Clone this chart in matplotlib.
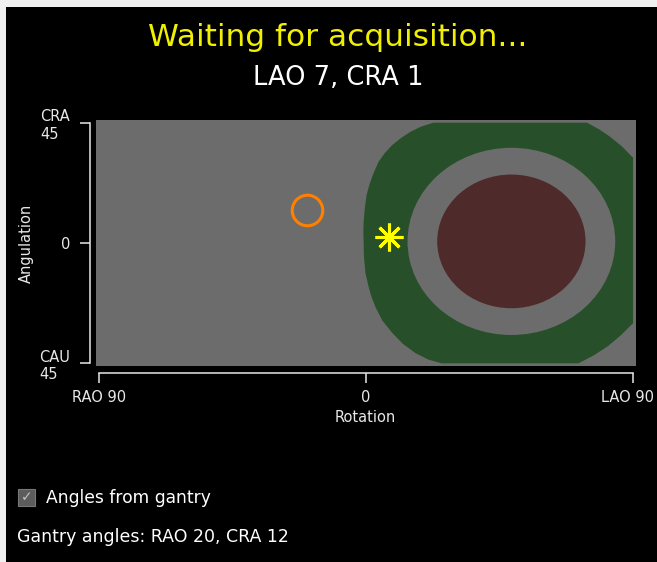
import numpy as np
import matplotlib
matplotlib.use("Agg")
import matplotlib.pyplot as plt
import matplotlib.transforms as mtransforms
from matplotlib.patches import Polygon, Circle, Rectangle

# axis ticks / labels
rotation_ticks = [-90, 0, 90]
rotation_labels = ["RAO 90", "0", "LAO 90"]
angulation_ticks = [-45, 0, 45]
angulation_labels = ["CAU\n45", "0", "CRA\n45"]

# outer (green) zone outline (rotation, angulation)
green_rot = [22.7, 74.5, 78.6, 82.3, 86.2, 89.7, 90.0, 90.0, 85.8, 81.5, 76.8,
             71.6, 25.5, 21.0, 16.7, 12.5, 8.9, 5.5, 3.2, 1.8, 0.8, -0.2, -0.7,
             -0.8, -0.9, -0.8, -0.4, 0.2, 1.2, 2.5, 4.2, 6.3, 8.8, 11.7, 15.0,
             18.5]
green_ang = [45.0, 45.0, 42.5, 39.7, 36.2, 32.2, 32.0, -30.0, -34.6, -38.6,
             -42.0, -45.0, -45.0, -43.6, -41.2, -37.8, -33.7, -29.0, -24.0,
             -20.0, -16.0, -11.2, -5.0, 0.5, 4.0, 7.9, 13.0, 18.0, 22.0, 26.0,
             30.3, 33.6, 36.6, 39.2, 41.6, 43.5]

# inner zones: circles around the optimal view
target_rot = 49.0
target_ang = 0.6
gap_radius = 35.0
target_radius = 25.0

# current position (star) and gantry position (circle)
current_rot, current_ang = 7.6, 2.2
gantry_rot, gantry_ang = -20.0, 12.3

title = "Waiting for acquisition..."
subtitle = "LAO 7, CRA 1"
gantry_text = "Gantry angles: RAO 20, CRA 12"

BG = "#6c6c6c"
GREEN = "#27502a"
RED = "#4f2a2b"
FG = "#e8e8e8"

plt.rcParams["font.family"] = ["DejaVu Sans"]

W, H = 657, 562
fig = plt.figure(figsize=(W / 100, H / 100), dpi=100, facecolor="black")

# window border (top / left)
fig.add_artist(Rectangle((0, 1 - 7 / H), 1, 7 / H, transform=fig.transFigure,
                         facecolor="#f0f0f0", edgecolor="none"))
fig.add_artist(Rectangle((0, 0), 6 / W, 1, transform=fig.transFigure,
                         facecolor="#f0f0f0", edgecolor="none"))

ax = fig.add_axes([96 / W, (H - 366) / H, 540 / W, 246 / H])
ax.set_facecolor(BG)
ax.set_xlim(-91, 91)
ax.set_ylim(-46, 46)

ax.add_patch(Polygon(np.column_stack([green_rot, green_ang]), closed=True,
                     facecolor=GREEN, edgecolor="none", zorder=1))
ax.add_patch(Circle((target_rot, target_ang), gap_radius, facecolor=BG,
                    edgecolor="none", zorder=2))
ax.add_patch(Circle((target_rot, target_ang), target_radius, facecolor=RED,
                    edgecolor="none", zorder=3))

ax.plot(gantry_rot, gantry_ang, marker="o", ms=22, mfc="none", mec="#ff8000",
        mew=2.2, zorder=5)
ax.plot(current_rot, current_ang, marker=(8, 2, 0), ms=20, mec="#ffff00",
        mew=2.2, zorder=6)

for s in ["top", "right"]:
    ax.spines[s].set_visible(False)
ax.spines["left"].set_position(("outward", 4.5))
ax.spines["bottom"].set_position(("outward", 5))
ax.spines["left"].set_bounds(-45, 45)
ax.spines["bottom"].set_bounds(-90, 90)
for s in ["left", "bottom"]:
    ax.spines[s].set_color(FG)
    ax.spines[s].set_linewidth(1.1)

ax.set_xticks(rotation_ticks)
ax.set_xticklabels(rotation_labels)
ax.set_yticks(angulation_ticks)
ax.set_yticklabels(angulation_labels)
for t in ax.get_yticklabels():
    t.set_multialignment("left")
ax.tick_params(colors=FG, labelcolor=FG, labelsize=10.5, length=7, width=1.1,
               direction="out")
ax.tick_params(axis="y", pad=7)
ax.tick_params(axis="x", pad=5)

# keep "LAO 90" inside the window
lao = ax.get_xticklabels()[-1]
lao.set_transform(lao.get_transform() +
                  mtransforms.ScaledTranslation(-4 / 72, 0, fig.dpi_scale_trans))

ax.set_xlabel("Rotation", color=FG, fontsize=10.5)
ax.xaxis.set_label_coords(0.499, -0.211)
ax.xaxis.label.set_va("center")
ax.set_ylabel("Angulation", color=FG, fontsize=10.5)
ax.yaxis.set_label_coords(-0.128, 0.5)
ax.yaxis.label.set_va("center")

fig.text(338 / W, 1 - 38 / H, title, color="#f0f000", fontsize=22.5,
         ha="center", va="center")
fig.text(338 / W, 1 - 78 / H, subtitle, color="white", fontsize=18.5,
         ha="center", va="center")

# checkbox
fig.add_artist(Rectangle((18 / W, 1 - 506 / H), 17 / W, 17 / H,
                         transform=fig.transFigure, facecolor="#5c5c5c",
                         edgecolor="#777777", lw=0.8))
fig.text(26.5 / W, 1 - 497.5 / H, "\u2713", color="#c0c0c0", fontsize=10,
         ha="center", va="center", fontweight="bold")
fig.text(46 / W, 1 - 498 / H, "Angles from gantry", color="white",
         fontsize=12.3, ha="left", va="center")
fig.text(17 / W, 1 - 537 / H, gantry_text, color="white", fontsize=12.5,
         ha="left", va="center")

fig.savefig("out.png", dpi=100, facecolor=fig.get_facecolor())
